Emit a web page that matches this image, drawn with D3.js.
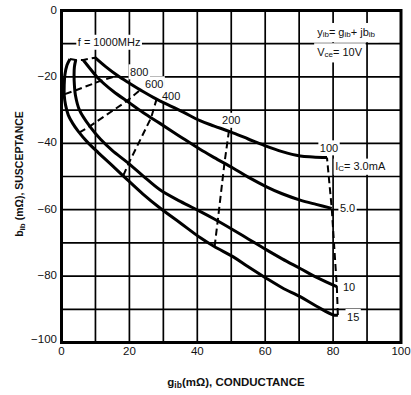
<!DOCTYPE html>
<html>
<head>
<meta charset="utf-8">
<script src="https://cdn.jsdelivr.net/npm/d3@7"></script>
<style>
body { margin: 0; background: #fff; }
svg { display: block; font-family: "Liberation Sans", Arial, Helvetica, sans-serif; }
</style>
</head>
<body>
<svg id="chart" width="411" height="395"></svg>
<script>

// values (g in mΩ, b in mΩ)
const xTicks = [0, 20, 40, 60, 80, 100];
const yTicks = [0, -20, -40, -60, -80, -100];
const gridSteps = [0, 10, 20, 30, 40, 50, 60, 70, 80, 90, 100];

const ic3 = [[9.9,-14.2],[13,-16.9],[16.5,-19.6],[20,-21.9],[24,-24.4],[28,-26.7],[32,-28.7],[36,-30.7],[40.8,-33.2],[45,-34.8],[49.6,-36.5],[55,-38.7],[59.4,-40.5],[65,-42.5],[70.3,-43.8],[74,-44.1],[78.2,-44.3]];
const ic5 = [[6.4,-14.9],[8.5,-17.6],[10.8,-20.4],[15.3,-24.4],[19.7,-27.6],[24,-30.7],[29,-34],[35,-38],[40.8,-41.8],[45,-44.3],[50.6,-47.5],[55,-50.2],[60.4,-53.1],[65,-55.2],[70.3,-57.1],[75,-58.4],[79.6,-59.6]];
const ic10 = [[4.2,-14.9],[3.8,-17],[3.7,-19.4],[3.8,-22.5],[4.1,-25.5],[5.3,-30],[8.4,-35],[11.5,-38.8],[15,-42.2],[19.2,-45.6],[24,-49.8],[29,-54],[35,-57.5],[40.8,-60.5],[45,-62.8],[50.6,-66.1],[55,-68.8],[60.4,-72.1],[65,-74.8],[70.3,-77.7],[75,-80.3],[81.1,-83.2]];
const ic15 = [[2.5,-14.6],[1.6,-16.5],[1.0,-19.4],[0.8,-22.5],[0.8,-25.5],[1.2,-28.5],[2,-31.5],[3.3,-34],[5,-36.5],[7.5,-39.5],[10.8,-42.8],[14.5,-46.3],[19.2,-50.8],[24,-55.3],[29,-59.5],[35,-64],[40.8,-68.4],[45,-71.1],[50.6,-74.2],[55,-77.2],[60.4,-80.7],[65,-83.5],[70.3,-86.2],[75,-89],[80.1,-91.7],[81.4,-91.7]];

// constant-frequency lines, from 15 mA up to 3.0 mA
const f1000 = [[2.5,-14.6],[4.2,-14.9],[6.4,-14.9],[9.9,-14.2]];
const f800 = [[1.0,-25.2],[4.0,-24.1],[11.5,-21.2],[16.5,-19.6]];
const f600 = [[5.2,-36.8],[8.3,-34.9],[19.2,-27.3],[23.2,-23.9]];
const f400 = [[18.2,-49.7],[19.8,-46],[26.4,-32.3],[28,-26.7]];
const f200 = [[45.1,-71.1],[46,-63.5],[48,-46],[49.3,-36.4]];
const f100 = [[81.4,-91.7],[81.1,-83.2],[79.6,-59.6],[78.2,-44.3]];

const solidCurves = [ic3, ic5, ic10, ic15];
const dashedCurves = [f1000, f800, f600, f400, f200, f100];

const svg = d3.select("#chart");
const x = d3.scaleLinear().domain([0, 100]).range([61.5, 401]);
const y = d3.scaleLinear().domain([-100, 0]).range([342.5, 10.5]);

// grid
const grid = svg.append("g").attr("stroke", "#000").attr("stroke-width", 1.7);
grid.selectAll(".vx").data(gridSteps).join("line")
	.attr("x1", d => x(d)).attr("x2", d => x(d))
	.attr("y1", y(0)).attr("y2", y(-100));
grid.selectAll(".hy").data(gridSteps).join("line")
	.attr("x1", x(0)).attr("x2", x(100))
	.attr("y1", d => y(-d)).attr("y2", d => y(-d));

// white boxes behind the in-plot labels, then the labels themselves
const bgLayer = svg.append("g");
const curveLayer = svg.append("g");
const textLayer = svg.append("g").attr("font-size", 11).attr("fill", "#111");

function label(parts, gx, by, pad) {
	const t = textLayer.append("text")
		.attr("x", x(gx)).attr("y", y(by))
		.attr("dominant-baseline", "middle");
	parts.forEach(p => {
		const s = t.append("tspan").text(p[0]);
		if (p[1] === "sub") s.attr("font-size", 8).attr("dy", 2);
		if (p[1] === "up") s.attr("dy", -2);
	});
	const bb = t.node().getBBox();
	const pd = pad == null ? 1.5 : pad;
	bgLayer.append("rect")
		.attr("x", bb.x - pd).attr("y", bb.y - pd)
		.attr("width", bb.width + 2 * pd).attr("height", bb.height + 2 * pd)
		.attr("fill", "#fff");
}

label([["f = 1000MHz"]], 4.8, -9.9);
label([["800"]], 20.2, -18.8);
label([["600"]], 24.6, -22.4);
label([["400"]], 29.6, -26.0);
label([["200"]], 47.3, -33.4);
label([["100"]], 76.1, -41.7);
label([["I"], ["C", "sub"], ["= 3.0mA", "up"]], 80.6, -47.2);
label([["5.0"]], 82.0, -59.9);
label([["10"]], 82.9, -83.5);
label([["15"]], 84.1, -92.5);
label([["y"], ["ib", "sub"], ["= g", "up"], ["ib", "sub"], ["+ jb", "up"], ["ib", "sub"]], 75.3, -6.8, 3);
label([["V"], ["ce", "sub"], ["= 10V", "up"]], 75.3, -12.9, 3);

// curves
const line = d3.line().x(d => x(d[0])).y(d => y(d[1])).curve(d3.curveCatmullRom.alpha(0.5));
const lineStraight = d3.line().x(d => x(d[0])).y(d => y(d[1]));

curveLayer.selectAll(".ic").data(solidCurves).join("path")
	.attr("d", line)
	.attr("fill", "none")
	.attr("stroke", "#000")
	.attr("stroke-width", 3)
	.attr("stroke-linejoin", "round");

curveLayer.selectAll(".fq").data(dashedCurves).join("path")
	.attr("d", lineStraight)
	.attr("fill", "none")
	.attr("stroke", "#000")
	.attr("stroke-width", 2)
	.attr("stroke-dasharray", "7,4");

// frame
svg.append("rect")
	.attr("x", x(0)).attr("y", y(0))
	.attr("width", x(100) - x(0)).attr("height", y(-100) - y(0))
	.attr("fill", "none").attr("stroke", "#000").attr("stroke-width", 3);

// tick labels
svg.append("g").attr("font-size", 11.5).attr("fill", "#111")
	.selectAll("text").data(yTicks).join("text")
	.attr("x", 57).attr("y", d => y(d) + (d === -100 ? -3 : 0))
	.attr("text-anchor", "end").attr("dominant-baseline", "middle")
	.text(d => d === 0 ? "0" : "\u2212" + Math.abs(d));

svg.append("g").attr("font-size", 11.5).attr("fill", "#111")
	.selectAll("text").data(xTicks).join("text")
	.attr("x", d => x(d)).attr("y", 352)
	.attr("text-anchor", "middle").attr("dominant-baseline", "middle")
	.text(d => d);

// axis titles
const xt = svg.append("text").attr("x", 236).attr("y", 386)
	.attr("text-anchor", "middle").attr("font-size", 11.5).attr("font-weight", "bold").attr("fill", "#111");
xt.append("tspan").text("g");
xt.append("tspan").text("ib").attr("font-size", 8.5).attr("dy", 1.5);
xt.append("tspan").text("(mΩ), CONDUCTANCE").attr("dy", -1.5);

const yt = svg.append("text").attr("transform", "translate(23,174) rotate(-90)")
	.attr("text-anchor", "middle").attr("font-size", 10.5).attr("font-weight", "bold").attr("fill", "#111");
yt.append("tspan").text("b");
yt.append("tspan").text("ib").attr("font-size", 8).attr("dy", 1.5);
yt.append("tspan").text(" (mΩ), SUSCEPTANCE").attr("dy", -1.5);

</script>
</body>
</html>
